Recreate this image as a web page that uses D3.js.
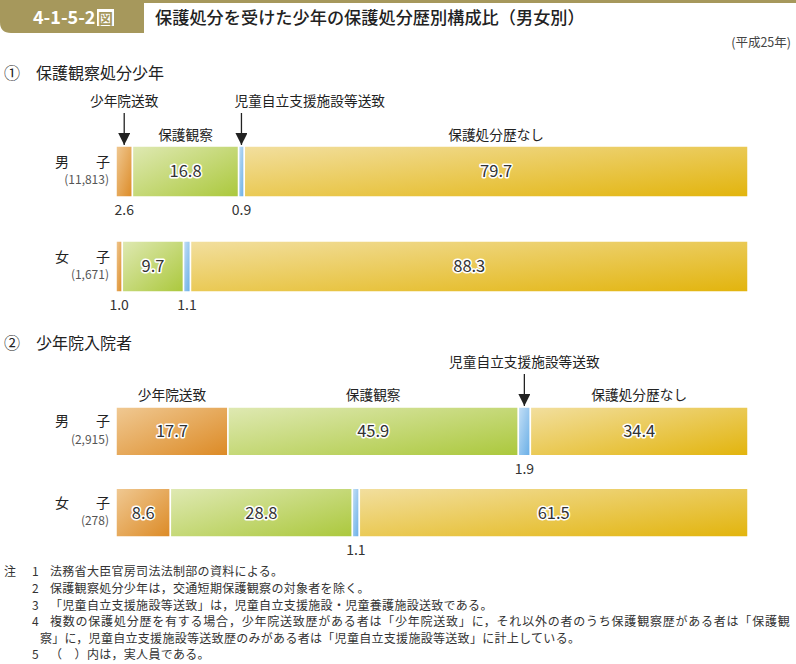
<!DOCTYPE html>
<html><head><meta charset="utf-8">
<script src="https://cdn.jsdelivr.net/npm/d3@7"></script>
<style>
html,body{margin:0;padding:0;background:#fff;}
svg{display:block;font-family:"Noto Sans CJK JP","Noto Sans",sans-serif;}
</style></head>
<body>
<svg id="chart" width="796" height="664"></svg>
<script>
// ---- data ----
const figNo = "4-1-5-2";
const title = "保護処分を受けた少年の保護処分歴別構成比（男女別）";
const yearNote = "(平成25年)";
const categories = ["少年院送致", "保護観察", "児童自立支援施設等送致", "保護処分歴なし"];
const sectionTitles = ["①　保護観察処分少年", "②　少年院入院者"];
const groupNames = ["男", "女"];
const probationCounts = ["11,813", "1,671"];
const probationMale = [2.6, 16.8, 0.9, 79.7];
const probationFemale = [1.0, 9.7, 1.1, 88.3];
const trainingCounts = ["2,915", "278"];
const trainingMale = [17.7, 45.9, 1.9, 34.4];
const trainingFemale = [8.6, 28.8, 1.1, 61.5];
const notes = [
  ["注", "1", "法務省大臣官房司法法制部の資料による。"],
  ["", "2", "保護観察処分少年は，交通短期保護観察の対象者を除く。"],
  ["", "3", "「児童自立支援施設等送致」は，児童自立支援施設・児童養護施設送致である。"],
  ["", "4", "複数の保護処分歴を有する場合，少年院送致歴がある者は「少年院送致」に，それ以外の者のうち保護観察歴がある者は「保護観"],
  ["", "", "察」に，児童自立支援施設等送致歴のみがある者は「児童自立支援施設等送致」に計上している。"],
  ["", "5", "（　）内は，実人員である。"]
];

// ---- styles ----
const khaki = "#a6985c";
const gradColors = [["#f0c993", "#dc8a25"], ["#dfe9b3", "#abc83c"], ["#c6e0f6", "#66ade6"], ["#f2df9f", "#e2b40c"]];

const svg = d3.select("#chart");
const defs = svg.append("defs");
gradColors.forEach((c, i) => {
  const g = defs.append("linearGradient").attr("id", "g" + i)
    .attr("x1", 0).attr("y1", 0).attr("x2", 1).attr("y2", 1);
  g.append("stop").attr("offset", "0%").attr("stop-color", c[0]);
  g.append("stop").attr("offset", "100%").attr("stop-color", c[1]);
});
defs.append("marker").attr("id", "arr").attr("viewBox", "0 0 10 10")
  .attr("refX", 10).attr("refY", 5).attr("markerWidth", 12).attr("markerHeight", 12)
  .attr("markerUnits", "userSpaceOnUse").attr("orient", "auto")
  .append("path").attr("d", "M0,0L10,5L0,10Z").attr("fill", "#222");

// ---- header ----
svg.append("rect").attr("x", 0).attr("y", 0).attr("width", 796).attr("height", 3).attr("fill", khaki);
svg.append("path").attr("d", "M0,0H144V33H11Q0,33 0,22Z").attr("fill", khaki);
svg.append("text").attr("x", 33).attr("y", 24).attr("fill", "#fff")
  .attr("font-size", 18).attr("font-weight", 700).text(figNo);
svg.append("rect").attr("x", 97).attr("y", 9).attr("width", 17).attr("height", 17).attr("fill", "#fff");
svg.append("text").attr("x", 105.5).attr("y", 23.5).attr("text-anchor", "middle").attr("fill", khaki)
  .attr("font-size", 15).attr("font-weight", 700).text("図");
svg.append("text").attr("x", 155).attr("y", 24).attr("fill", "#222")
  .attr("font-size", 17.2).attr("font-weight", 500).text(title);
svg.append("text").attr("x", 791).attr("y", 47).attr("text-anchor", "end").attr("fill", "#444")
  .attr("font-size", 12.5).text(yearNote);

// ---- scales ----
const x = d3.scaleLinear().domain([0, 100]).range([116, 748]);

const sections = [
  { title: sectionTitles[0], titleY: 73, rows: [probationMale, probationFemale], counts: probationCounts,
    y: d3.scaleBand().domain(groupNames).range([146, 292]).paddingInner(0.463),
    ann: [
      { cat: 0, row: 0, arrow: true, ty: 101, anchor: "middle", dx: 0 },
      { cat: 2, row: 0, arrow: true, ty: 101, anchor: "start", dx: -7 },
      { cat: 1, row: 0, arrow: false, ty: 135, anchor: "middle", dx: 0 },
      { cat: 3, row: 0, arrow: false, ty: 135, anchor: "middle", dx: 0 }
    ] },
  { title: sectionTitles[1], titleY: 343, rows: [trainingMale, trainingFemale], counts: trainingCounts,
    y: d3.scaleBand().domain(groupNames).range([407, 537]).paddingInner(0.4),
    ann: [
      { cat: 0, row: 0, arrow: false, ty: 395, anchor: "middle", dx: 0 },
      { cat: 1, row: 0, arrow: false, ty: 395, anchor: "middle", dx: 0 },
      { cat: 2, row: 0, arrow: true, ty: 362, anchor: "middle", dx: 0 },
      { cat: 3, row: 0, arrow: false, ty: 395, anchor: "middle", dx: 0 }
    ] }
];

sections.forEach(sec => {
  svg.append("text").attr("x", 4).attr("y", sec.titleY).attr("dy", "0.36em")
    .attr("font-size", 16).attr("fill", "#222").text(sec.title);

  const segsByRow = sec.rows.map(vals => {
    const total = d3.sum(vals);
    const sx = x.copy().domain([0, total]);
    let acc = 0;
    return vals.map((v, i) => {
      const s = { i, v, x0: sx(acc), x1: sx(acc + v) };
      acc += v;
      return s;
    });
  });

  sec.rows.forEach((vals, r) => {
    const g = groupNames[r];
    const y0 = sec.y(g), bh = sec.y.bandwidth(), cy = y0 + bh / 2;
    const segs = segsByRow[r];
    const gg = svg.append("g");
    gg.selectAll("rect").data(segs).join("rect")
      .attr("x", d => d.x0).attr("y", y0)
      .attr("width", d => d.x1 - d.x0).attr("height", bh)
      .attr("fill", d => `url(#g${d.i})`)
      .attr("stroke", "#fff").attr("stroke-width", 1.5);
    // inside labels
    gg.selectAll("text.in").data(segs.filter(d => d.v >= 5)).join("text")
      .attr("x", d => (d.x0 + d.x1) / 2).attr("y", cy).attr("dy", "0.36em")
      .attr("text-anchor", "middle").attr("font-size", 16.5)
      .attr("fill", "#333").attr("stroke", "#fff").attr("stroke-width", 3)
      .attr("stroke-linejoin", "round").attr("paint-order", "stroke")
      .text(d => d.v.toFixed(1));
    // outside labels below bar
    gg.selectAll("text.out").data(segs.filter(d => d.v < 5)).join("text")
      .attr("x", d => (d.x0 + d.x1) / 2).attr("y", y0 + bh + 13).attr("dy", "0.36em")
      .attr("text-anchor", "middle").attr("font-size", 14).attr("fill", "#333")
      .text(d => d.v.toFixed(1));
    // group label
    svg.append("text").attr("x", 55).attr("y", cy - 10).attr("dy", "0.36em")
      .attr("font-size", 14).attr("fill", "#222").text(g);
    svg.append("text").attr("x", 110).attr("y", cy - 10).attr("dy", "0.36em")
      .attr("text-anchor", "end").attr("font-size", 14).attr("fill", "#222").text("子");
    svg.append("text").attr("x", 109).attr("y", cy + 8).attr("dy", "0.36em")
      .attr("text-anchor", "end").attr("font-size", 12).attr("fill", "#555").text("(" + sec.counts[r] + ")");
  });

  sec.ann.forEach(a => {
    const s = segsByRow[a.row][a.cat];
    const cx = (s.x0 + s.x1) / 2;
    const top = sec.y(groupNames[a.row]);
    svg.append("text").attr("x", cx + a.dx).attr("y", a.ty).attr("dy", "0.36em")
      .attr("text-anchor", a.anchor).attr("font-size", 13.7).attr("fill", "#222")
      .text(categories[a.cat]);
    if (a.arrow) {
      svg.append("line").attr("x1", cx).attr("x2", cx).attr("y1", a.ty + 12).attr("y2", top - 1)
        .attr("stroke", "#222").attr("stroke-width", 1.3).attr("marker-end", "url(#arr)");
    }
  });
});

// ---- notes ----
const ny = d3.scaleLinear().domain([0, notes.length - 1]).range([572, 655]);
notes.forEach((n, i) => {
  const yy = ny(i);
  const t = svg.append("g").attr("font-size", 12).attr("fill", "#333");
  if (n[0]) t.append("text").attr("x", 4).attr("y", yy).attr("dy", "0.36em").text(n[0]);
  if (n[1]) t.append("text").attr("x", 32).attr("y", yy).attr("dy", "0.36em").text(n[1]);
  const tx = t.append("text").attr("x", n[1] ? 50 : 40).attr("y", yy).attr("dy", "0.36em")
    .attr("letter-spacing", 0.3).text(n[2]);
  if (i === 3) tx.attr("textLength", 740).attr("lengthAdjust", "spacing");
});
</script>
</body></html>
